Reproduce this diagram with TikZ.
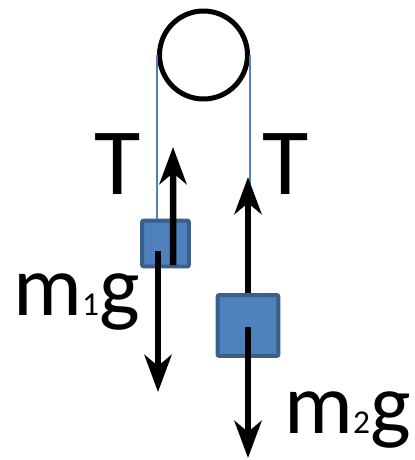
\documentclass[tikz,border=0pt]{standalone}
\usepackage{fontspec}
\setmainfont{Carlito}
\usetikzlibrary{arrows.meta}
\definecolor{azulbloque}{HTML}{4F81BD}
\definecolor{bordebloque}{HTML}{3A5F8B}
\tikzset{
	bloque/.style={draw=bordebloque, fill=azulbloque, line width=0.08cm, rounded corners=0.04cm, inner sep=0pt},
	cuerda/.style={azulbloque, line width=0.03cm},
	fuerza/.style={line width=0.13cm, -{Stealth[length=0.74cm, width=0.54cm, inset=0.22cm]}},
	etiqueta/.style={inner sep=0pt, font=\fontsize{54}{54}\selectfont},
	masa/.style={inner sep=0pt, anchor=base west, font=\fontsize{49}{49}\selectfont}
}
\newcommand{\subm}[1]{{\fontsize{19}{19}\selectfont #1}}
\begin{document}
\begin{tikzpicture}[x=0.02cm, y=-0.02cm]
	% Marco de la figura (415 x 460 px)
	\useasboundingbox (0,0) rectangle (415,460);
	
	% Polea
	\node[circle, draw, line width=0.1cm, minimum size=1.76cm, inner sep=0pt] (polea) at (203.5,55) {};
	
	% Bloques
	\node[bloque, minimum width=0.94cm, minimum height=0.92cm] (m1) at (165.5,243.5) {};
	\node[bloque, minimum width=1.22cm, minimum height=1.22cm] (m2) at (248,325.5) {};
	
	% Cuerdas
	\draw[cuerda] (polea.west) -- (polea.west |- m1.north);
	\draw[cuerda] (polea.east) -- (polea.east |- m2.north);
	
	% Fuerzas sobre m1
	\coordinate (puntaT1) at (173,147);
	\coordinate (puntaP1) at (158,392);
	\draw[fuerza] ([shift={(7.5,21.5)}]m1.center) -- (puntaT1);
	\draw[fuerza] ([shift={(-7.5,7.5)}]m1.center) -- (puntaP1);
	
	% Fuerzas sobre m2
	\coordinate (puntaT2) at (248,177);
	\coordinate (puntaP2) at (248,458);
	\draw[fuerza] (m2.north) -- (puntaT2);
	\draw[fuerza] ([shift={(0,1.5)}]m2.center) -- (puntaP2);
	
	% Etiquetas
	\node[etiqueta] (tIzq) at (118,164) {T};
	\node[etiqueta] (tDer) at (286,164) {T};
	\node[masa] (pesoM1) at (13,315) {m\subm{1}g};
	\node[masa] (pesoM2) at (284,433) {m\subm{2}g};
	
\end{tikzpicture}
\end{document}
